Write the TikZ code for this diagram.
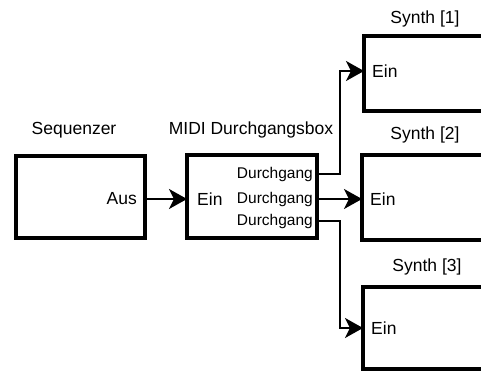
\documentclass[tikz,border=0pt]{standalone}
\usepackage{fontspec}
\setmainfont{Liberation Sans}
\usetikzlibrary{arrows.meta}
\begin{document}
\begin{tikzpicture}[x=1pt,y=-1pt,
  box/.style={draw=black, line width=4pt, rectangle, outer sep=0pt, inner sep=0pt},
  lbl/.style={font=\fontsize{17.5}{20}\selectfont, inner sep=0pt},
  small/.style={font=\fontsize{15.5}{18}\selectfont, inner sep=0pt},
  conn/.style={line width=2pt, -{Stealth[length=18pt,width=20pt,inset=5pt]}},
  wire/.style={line width=2pt}]
\useasboundingbox (0,0) rectangle (481,371);
\clip (0,0) rectangle (481,371);
% boxes
\node[box, minimum width=129pt, minimum height=82pt] (seq) at (80.5,197) {};
\node[box, minimum width=130pt, minimum height=83pt] (midi) at (252,196.5) {};
\node[box, minimum width=130pt, minimum height=75pt] (s1) at (429,74) {};
\node[box, minimum width=130pt, minimum height=85pt] (s2) at (427,197.5) {};
\node[box, minimum width=130pt, minimum height=82pt] (s3) at (428,328) {};
% titles
\node[lbl] (tseq) at (74,130) {Sequenzer};
\node[lbl] (tmidi) at (251,130) {MIDI Durchgangsbox};
\node[lbl] (ts1) at (425,19) {Synth [1]};
\node[lbl] (ts2) at (425,135) {Synth [2]};
\node[lbl] (ts3) at (427,267) {Synth [3]};
% port labels
\node[lbl, anchor=east] (aus) at (137,199) {Aus};
\node[lbl, anchor=west] (ein) at (197,199) {Ein};
\node[small, anchor=east] (d1) at (313,174) {Durchgang};
\node[small, anchor=east] (d2) at (313,199) {Durchgang};
\node[small, anchor=east] (d3) at (313,221) {Durchgang};
\node[lbl, anchor=west] (e1) at (372,71) {Ein};
\node[lbl, anchor=west] (e2) at (370,199) {Ein};
\node[lbl, anchor=west] (e3) at (371,328) {Ein};
\coordinate (bus) at (340,0);
% connectors
\draw[conn] (aus -| seq.east) -- (aus -| midi.west);
\draw[conn] (d2 -| midi.east) -- (d2 -| s2.west);
\draw[conn] (d1 -| midi.east) -| (bus |- e1) -- (e1 -| s1.west);
\draw[conn] (d3 -| midi.east) -| (bus |- e3) -- (e3 -| s3.west);
\end{tikzpicture}
\end{document}
